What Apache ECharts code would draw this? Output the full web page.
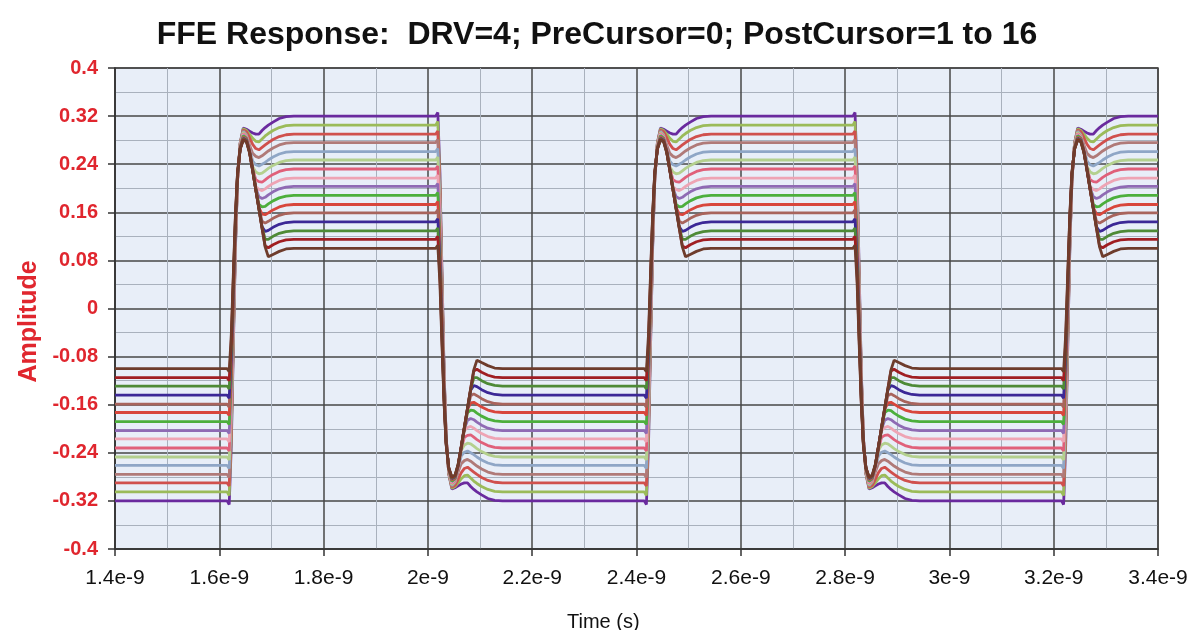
<!DOCTYPE html>
<html>
<head>
<meta charset="utf-8">
<script src="https://cdn.jsdelivr.net/npm/echarts@6/dist/echarts.min.js"></script>
<style>
html,body{margin:0;padding:0;background:#fff;}
#chart{width:1194px;height:630px;}
</style>
</head>
<body>
<div id="chart"></div>
<script>
// ---- data (time in ns, amplitude in V) ----
const xTickLabels = ['1.4e-9','1.6e-9','1.8e-9','2e-9','2.2e-9','2.4e-9','2.6e-9','2.8e-9','3e-9','3.2e-9','3.4e-9'];
const yTickLabels = ['-0.4','-0.32','-0.24','-0.16','-0.08','0','0.08','0.16','0.24','0.32','0.4'];
const seriesNames = ['PostCursor=1','PostCursor=2','PostCursor=3','PostCursor=4','PostCursor=5','PostCursor=6','PostCursor=7','PostCursor=8',
  'PostCursor=9','PostCursor=10','PostCursor=11','PostCursor=12','PostCursor=13','PostCursor=14','PostCursor=15','PostCursor=16'];
const edgeTimesNs = [1.615, 2.015, 2.415, 2.815, 3.215];
const edgePolarity = [1, -1, 1, -1, 1];
const edgeOffsetsNs = [0, 0.004, 0.008, 0.012, 0.016, 0.020, 0.025, 0.031, 0.037, 0.043, 0.049, 0.055, 0.061, 0.067, 0.073, 0.079, 0.088, 0.100, 0.113, 0.128];
// rising-edge response (falling edges are its mirror)
const pc1  = [-0.320,-0.326,-0.227,-0.060,0.102,0.213,0.275,0.300,0.298,0.295,0.292,0.290,0.290,0.296,0.301,0.305,0.310,0.316,0.319,0.320];
const pc2  = [-0.305,-0.311,-0.214,-0.051,0.106,0.214,0.275,0.299,0.296,0.290,0.283,0.278,0.277,0.282,0.287,0.291,0.296,0.301,0.304,0.305];
const pc3  = [-0.290,-0.295,-0.202,-0.043,0.109,0.215,0.274,0.297,0.294,0.284,0.273,0.266,0.264,0.268,0.272,0.276,0.281,0.286,0.289,0.290];
const pc4  = [-0.276,-0.281,-0.190,-0.036,0.113,0.216,0.273,0.296,0.290,0.272,0.258,0.253,0.251,0.254,0.258,0.262,0.267,0.272,0.275,0.276];
const pc5  = [-0.261,-0.266,-0.178,-0.028,0.116,0.216,0.272,0.294,0.288,0.266,0.245,0.239,0.237,0.240,0.243,0.247,0.252,0.257,0.260,0.261];
const pc6  = [-0.247,-0.252,-0.166,-0.020,0.120,0.217,0.271,0.293,0.287,0.264,0.236,0.227,0.224,0.225,0.229,0.233,0.238,0.243,0.246,0.247];
const pc7  = [-0.232,-0.237,-0.154,-0.012,0.124,0.218,0.270,0.291,0.286,0.264,0.233,0.214,0.211,0.210,0.214,0.218,0.223,0.228,0.231,0.232];
const pc8  = [-0.217,-0.222,-0.141,-0.004,0.128,0.219,0.270,0.290,0.285,0.263,0.233,0.203,0.198,0.196,0.199,0.203,0.208,0.213,0.216,0.217];
const pc9  = [-0.203,-0.208,-0.129,0.003,0.131,0.219,0.268,0.288,0.284,0.263,0.232,0.200,0.186,0.183,0.185,0.189,0.194,0.199,0.202,0.203];
const pc10 = [-0.188,-0.193,-0.117,0.012,0.135,0.221,0.268,0.287,0.283,0.262,0.232,0.200,0.173,0.169,0.170,0.174,0.179,0.184,0.187,0.188];
const pc11 = [-0.173,-0.178,-0.104,0.019,0.138,0.221,0.267,0.285,0.282,0.262,0.231,0.199,0.168,0.157,0.156,0.159,0.164,0.169,0.172,0.173];
const pc12 = [-0.159,-0.164,-0.093,0.027,0.142,0.222,0.266,0.284,0.281,0.261,0.231,0.199,0.168,0.145,0.142,0.145,0.150,0.155,0.158,0.159];
const pc13 = [-0.144,-0.149,-0.080,0.035,0.146,0.223,0.266,0.283,0.280,0.261,0.230,0.198,0.167,0.136,0.128,0.130,0.135,0.140,0.143,0.144];
const pc14 = [-0.129,-0.134,-0.067,0.044,0.150,0.224,0.266,0.282,0.279,0.260,0.230,0.198,0.166,0.135,0.115,0.115,0.120,0.125,0.128,0.129];
const pc15 = [-0.115,-0.120,-0.056,0.051,0.154,0.226,0.265,0.281,0.278,0.260,0.229,0.197,0.166,0.134,0.104,0.101,0.106,0.111,0.114,0.115];
const pc16 = [-0.100,-0.105,-0.043,0.060,0.158,0.227,0.265,0.280,0.277,0.259,0.229,0.197,0.165,0.133,0.102,0.086,0.090,0.095,0.099,0.100];
const edgeResponses = [pc1,pc2,pc3,pc4,pc5,pc6,pc7,pc8,pc9,pc10,pc11,pc12,pc13,pc14,pc15,pc16];

// ---- styles ----
const seriesColors = ['#6a2a9e','#9bbb59','#d0504d','#b07a78','#8fa6c6','#b4d08e','#e0607a','#eea4b4',
  '#8f6ab4','#4caf3c','#d8463c','#a8645c','#3c2896','#4e8a36','#a01e22','#6e3c2c'];

const X_MIN = 1.4, X_MAX = 3.4, X_STEP = 0.2;
const Y_MIN = -0.4, Y_MAX = 0.4, Y_STEP = 0.08;

function buildSeriesData(resp) {
  const pts = [[X_MIN, resp[0]]];
  edgeTimesNs.forEach((t0, k) => {
    const s = edgePolarity[k];
    edgeOffsetsNs.forEach((o, j) => pts.push([t0 + o, s * resp[j]]));
  });
  const lastS = edgePolarity[edgePolarity.length - 1];
  pts.push([X_MAX, lastS * resp[resp.length - 1]]);
  return pts;
}

const series = edgeResponses.map((resp, i) => ({
  name: seriesNames[i],
  type: 'line',
  data: buildSeriesData(resp),
  showSymbol: false,
  symbol: 'none',
  smooth: false,
  lineStyle: { color: seriesColors[i], width: 2.8 },
  itemStyle: { color: seriesColors[i] },
  z: 3,
  animation: false
}));

const chart = echarts.init(document.getElementById('chart'), null, { renderer: 'canvas' });
chart.setOption({
  animation: false,
  backgroundColor: '#ffffff',
  title: [{
    text: 'FFE Response:  DRV=4; PreCursor=0; PostCursor=1 to 16',
    left: 'center',
    top: 14,
    textStyle: { fontFamily: 'Liberation Sans, Arial, sans-serif', fontWeight: 'bold', fontSize: 32, color: '#111' }
  }, {
    text: 'Time (s)',
    left: 562,
    top: 607,
    textStyle: { fontFamily: 'Liberation Sans, Arial, sans-serif', fontWeight: 'normal', fontSize: 20, color: '#111' }
  }],
  grid: { left: 115, right: 36, top: 68, bottom: 81, show: true, backgroundColor: '#e8eef8', borderColor: '#444', borderWidth: 1.5 },
  xAxis: {
    type: 'value',
    min: X_MIN, max: X_MAX, interval: X_STEP,
    axisLine: { show: true, onZero: false, lineStyle: { color: '#333', width: 1.5 } },
    axisTick: { show: true, length: 7, lineStyle: { color: '#333', width: 1.5 } },
    axisLabel: {
      margin: 19, color: '#111', fontSize: 21, fontFamily: 'Liberation Sans, Arial, sans-serif',
      formatter: v => xTickLabels[Math.round((v - X_MIN) / X_STEP)] || ''
    },
    splitLine: { show: true, lineStyle: { color: '#474747', width: 1.5 } },
    minorTick: { show: false, splitNumber: 2 },
    minorSplitLine: { show: true, lineStyle: { color: '#a9b1bd', width: 1 } }
  },
  yAxis: {
    type: 'value',
    min: Y_MIN, max: Y_MAX, interval: Y_STEP,
    name: 'Amplitude',
    nameLocation: 'middle',
    nameGap: 70,
    nameRotate: 90,
    nameTextStyle: { color: '#e0262e', fontWeight: 'bold', fontSize: 25, fontFamily: 'Liberation Sans, Arial, sans-serif', padding: [0, 26, 0, 0] },
    axisLine: { show: true, lineStyle: { color: '#333', width: 1.5 } },
    axisTick: { show: true, length: 7, lineStyle: { color: '#333', width: 1.5 } },
    axisLabel: {
      margin: 17, color: '#e0262e', fontSize: 20, fontWeight: 'bold', fontFamily: 'Liberation Sans, Arial, sans-serif',
      formatter: v => yTickLabels[Math.round((v - Y_MIN) / Y_STEP)] || ''
    },
    splitLine: { show: true, lineStyle: { color: '#474747', width: 1.5 } },
    minorTick: { show: false, splitNumber: 2 },
    minorSplitLine: { show: true, lineStyle: { color: '#a9b1bd', width: 1 } }
  },
  series: series
});
</script>
</body>
</html>
